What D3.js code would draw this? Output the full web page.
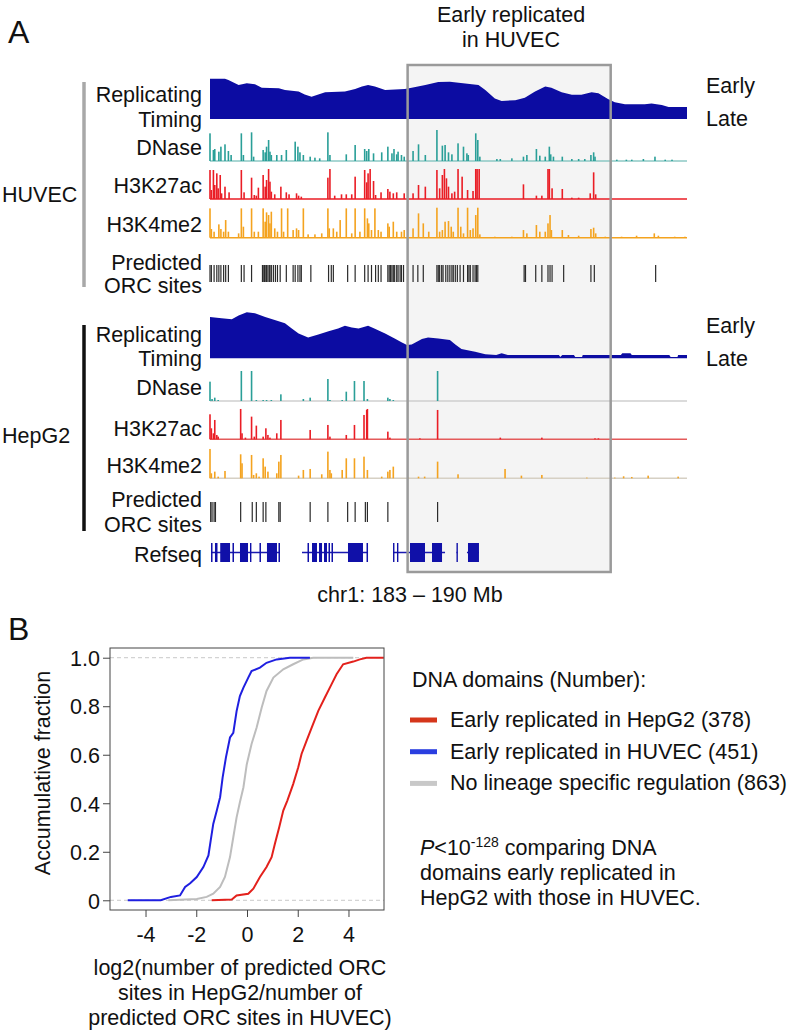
<!DOCTYPE html>
<html>
<head>
<meta charset="utf-8">
<script src="https://cdn.jsdelivr.net/npm/d3@7"></script>
<style>
  body { margin: 0; background: #fff; }
  svg { font-family: "Liberation Sans", Arial, sans-serif; }
</style>
</head>
<body>
<svg id="fig" width="796" height="1033"></svg>
<script>
// ---------- Panel A data (chr1, positions in Mb) ----------
const huvecTiming = [[183.00,0.98],[183.22,0.98],[183.27,0.95],[183.42,0.83],[183.54,0.87],[183.66,0.85],[183.76,0.76],
  [184.01,0.75],[184.10,0.71],[184.30,0.67],[184.39,0.60],[184.49,0.54],[184.59,0.60],[184.69,0.65],[184.98,0.67],
  [185.13,0.73],[185.23,0.79],[185.32,0.83],[185.42,0.79],[185.57,0.71],[185.86,0.73],[185.96,0.76],[186.16,0.83],
  [186.35,0.90],[186.52,0.91],[186.94,0.83],[187.04,0.71],[187.18,0.50],[187.28,0.44],[187.48,0.46],[187.62,0.52],
  [187.77,0.67],[187.92,0.79],[188.01,0.76],[188.16,0.65],[188.31,0.59],[188.45,0.59],[188.60,0.65],[188.70,0.63],
  [188.84,0.49],[188.94,0.41],[189.09,0.36],[189.38,0.36],[189.48,0.38],[189.63,0.34],[189.73,0.29],[190.00,0.29]];

const hepg2Timing = [[183.00,0.90],[183.17,0.87],[183.32,0.85],[183.42,0.93],[183.54,1.00],[183.66,0.98],[183.81,0.90],
  [183.95,0.83],[184.10,0.76],[184.20,0.65],[184.30,0.54],[184.44,0.45],[184.59,0.52],[184.74,0.59],[184.88,0.65],
  [184.98,0.71],[185.08,0.67],[185.18,0.65],[185.32,0.71],[185.42,0.64],[185.57,0.54],[185.71,0.43],[185.81,0.35],
  [185.89,0.29],[185.96,0.30],[186.11,0.42],[186.20,0.45],[186.35,0.43],[186.52,0.40],[186.60,0.30],[186.69,0.20],
  [186.89,0.14],[187.04,0.09],[187.20,0.07],[187.28,0.11],[187.37,0.07],[188.12,0.07],[188.14,0.03],[188.17,0.07],
  [188.34,0.07],[188.36,0.03],[188.46,0.03],[188.47,0.07],[189.03,0.07],[189.05,0.11],[189.17,0.11],[189.19,0.07],
  [189.74,0.07],[189.76,0.03],[189.86,0.03],[189.87,0.07],[190.00,0.07]];

const huvecDnase = [[183.00,83],[183.05,33],[183.07,36],[183.13,28],[183.16,43],[183.22,50],[183.27,30],[183.31,18],
  [183.46,83],[183.49,18],[183.61,86],[183.64,13],[183.78,33],[183.81,26],[183.83,43],[183.86,63],[183.88,28],[183.90,18],
  [183.98,18],[184.05,18],[184.12,33],[184.25,58],[184.29,43],[184.32,26],[184.37,18],[184.47,13],[184.54,10],[184.61,8],
  [184.73,86],[184.76,18],[185.00,20],[185.13,48],[185.27,36],[185.30,30],[185.33,36],[185.40,23],[185.52,26],[185.61,43],
  [185.67,23],[185.70,36],[185.74,20],[185.76,28],[185.81,18],[185.85,13],[185.98,30],[186.06,50],[186.16,18],[186.33,93],
  [186.41,46],[186.45,48],[186.50,26],[186.55,20],[186.64,53],[186.72,43],[186.77,23],[186.79,18],[186.90,83],[186.93,63],
  [186.96,13],[187.21,6],[187.26,6],[187.43,8],[187.60,13],[187.65,18],[187.79,36],[187.84,16],[187.92,13],[187.98,43],
  [188.00,20],[188.04,13],[188.17,13],[188.31,6],[188.41,6],[188.50,6],[188.59,18],[188.63,26],[188.65,13],[188.97,4],
  [189.11,4],[189.19,4],[189.36,6],[189.53,13],[189.68,4],[189.78,4]];

const huvecH3k27ac = [[183.00,87],[183.02,27],[183.05,87],[183.07,42],[183.10,77],[183.12,32],[183.15,72],[183.17,17],
  [183.22,37],[183.28,20],[183.46,87],[183.50,20],[183.61,64],[183.65,12],[183.68,10],[183.71,34],[183.78,72],[183.81,37],
  [183.83,57],[183.86,90],[183.88,52],[183.90,22],[183.95,14],[184.04,37],[184.12,20],[184.16,14],[184.27,17],[184.30,10],
  [184.34,7],[184.73,64],[184.76,90],[184.83,10],[184.93,14],[185.00,14],[185.08,14],[185.13,67],[185.27,87],[185.30,50],
  [185.32,77],[185.35,90],[185.40,54],[185.43,12],[185.51,20],[185.61,30],[185.64,22],[185.69,17],[185.74,20],[185.85,17],
  [185.98,17],[186.06,42],[186.16,37],[186.33,87],[186.37,32],[186.41,72],[186.44,90],[186.47,62],[186.50,37],[186.55,17],
  [186.59,22],[186.64,90],[186.70,67],[186.78,27],[186.86,24],[186.90,90],[186.92,90],[186.95,90],[187.60,44],[187.79,10],
  [187.87,10],[187.96,90],[187.98,90],[188.02,32],[188.17,30],[188.31,4],[188.41,4],[188.58,17],[188.63,80],[188.66,14]];

const huvecH3k4me2 = [[183.00,88],[183.02,26],[183.06,18],[183.13,40],[183.16,26],[183.20,18],[183.23,53],[183.27,18],
  [183.42,13],[183.46,88],[183.49,33],[183.61,88],[183.65,18],[183.71,18],[183.78,88],[183.81,48],[183.83,76],[183.86,68],
  [183.88,43],[183.90,78],[183.95,28],[183.99,18],[184.05,88],[184.08,18],[184.14,88],[184.22,23],[184.27,28],[184.30,23],
  [184.37,88],[184.44,10],[184.54,10],[184.64,13],[184.73,88],[184.75,28],[184.81,28],[184.86,18],[184.91,53],[185.00,88],
  [185.08,13],[185.13,88],[185.20,18],[185.27,88],[185.31,58],[185.33,43],[185.37,23],[185.42,88],[185.47,23],[185.51,18],
  [185.61,43],[185.63,33],[185.69,48],[185.74,18],[185.81,18],[185.85,23],[185.98,28],[186.06,73],[186.13,43],[186.21,18],
  [186.33,90],[186.37,18],[186.41,23],[186.45,48],[186.50,50],[186.54,33],[186.57,18],[186.64,90],[186.68,33],[186.72,13],
  [186.78,90],[186.82,23],[186.86,28],[186.90,68],[186.93,90],[186.96,10],[187.18,3],[187.43,3],[187.60,23],[187.65,13],
  [187.79,38],[187.84,18],[187.92,18],[187.96,43],[187.99,68],[188.01,23],[188.17,23],[188.26,8],[188.41,6],[188.59,26],
  [188.63,30],[188.66,13],[188.80,3],[189.04,3],[189.26,6],[189.52,13],[189.58,6],[189.82,3],[189.97,3]];

const huvecOrc = [183.00,183.02,183.06,183.10,183.13,183.16,183.20,183.23,183.27,183.46,183.50,183.61,183.77,183.78,
  183.80,183.82,183.83,183.85,183.87,183.88,183.90,183.93,183.96,183.99,184.03,184.12,184.22,184.25,184.29,184.32,184.34,
  184.48,184.74,184.78,184.81,185.02,185.13,185.27,185.32,185.37,185.43,185.47,185.51,185.61,185.63,185.65,185.67,185.69,
  185.71,185.74,185.76,185.79,185.81,185.84,185.98,186.05,186.13,186.33,186.35,186.37,186.40,186.42,186.46,186.49,186.52,
  186.55,186.57,186.60,186.63,186.67,186.72,186.78,186.80,186.82,186.86,186.89,186.91,186.93,187.61,187.63,187.78,187.87,
  187.96,187.99,188.02,188.19,188.59,188.64,189.54];

const hepg2Dnase = [[183.00,58],[183.03,6],[183.07,10],[183.12,3],[183.46,90],[183.61,90],[183.68,3],[183.78,3],[183.83,3],
  [183.90,3],[184.04,20],[184.37,6],[184.47,10],[184.73,66],[184.76,3],[184.94,3],[185.00,28],[185.12,60],[185.26,60],
  [185.31,6],[185.61,10],[185.64,6],[185.69,3],[186.34,90]];

const hepg2H3k27ac = [[183.00,75],[183.02,33],[183.05,18],[183.07,58],[183.10,13],[183.12,8],[183.45,91],[183.47,18],
  [183.52,5],[183.61,68],[183.65,8],[183.68,41],[183.78,8],[183.82,33],[183.85,13],[183.88,5],[183.98,18],[184.04,58],
  [184.47,28],[184.73,43],[184.76,8],[185.00,13],[185.12,43],[185.26,73],[185.30,88],[185.31,91],[185.61,23],[185.64,5],
  [186.08,3],[186.34,88],[187.26,5],[187.87,5],[188.65,3],[188.70,3]];

const hepg2H3k4me2 = [[183.00,88],[183.02,15],[183.07,20],[183.12,5],[183.22,22],[183.45,72],[183.47,45],[183.61,70],
  [183.64,10],[183.68,15],[183.72,5],[183.78,60],[183.81,35],[183.85,20],[183.98,15],[184.01,50],[184.04,70],[184.30,8],
  [184.37,25],[184.47,28],[184.64,12],[184.73,80],[184.76,25],[184.78,15],[184.94,25],[185.00,60],[185.12,60],[185.26,65],
  [185.31,25],[185.52,5],[185.61,20],[185.64,25],[185.69,35],[185.91,2],[186.06,5],[186.15,5],[186.34,50],[186.64,12],
  [187.33,28],[187.57,8],[187.87,10],[188.53,2],[188.94,2],[189.07,6],[189.19,4],[189.43,8],[189.87,5]];

const hepg2Orc = [183.01,183.03,183.06,183.08,183.45,183.62,183.68,183.78,183.82,184.01,184.03,184.47,184.73,185.02,
  185.13,185.28,185.31,185.61,186.34];

const refseqGenes = [
  { start: 183.015, end: 184.027, exons: [[183.015,183.037],[183.073,183.110],[183.150,183.294],[183.330,183.352],
      [183.440,183.558],[183.587,183.600],[183.726,183.748],[183.836,183.983],[184.005,184.027]] },
  { start: 184.350, end: 185.319, exons: [[184.431,184.453],[184.497,184.570],[184.600,184.644],[184.673,184.717],
      [184.739,184.761],[184.783,184.805],[185.025,185.245],[185.297,185.319]] },
  { start: 185.686, end: 186.449, exons: [[185.686,185.700],[185.744,185.759],[185.935,186.155],[186.258,186.405]] },
  { start: 186.617, end: 186.632, exons: [[186.617,186.632]] },
  { start: 186.771, end: 186.947, exons: [[186.786,186.947]] }
];

const earlyRegion = [185.90, 188.88];

// ---------- Panel B data (cumulative distributions) ----------
const cdfHepg2 = [[-1.39,0],[-0.60,0.003],[-0.41,0.02],[0.05,0.027],[0.25,0.048],[0.51,0.096],[0.77,0.137],[0.97,0.178],
  [1.10,0.233],[1.27,0.301],[1.43,0.37],[1.59,0.411],[1.82,0.479],[2.02,0.548],[2.15,0.603],[2.35,0.658],[2.55,0.712],
  [2.81,0.781],[3.07,0.836],[3.33,0.89],[3.53,0.932],[3.79,0.973],[4.19,0.984],[4.45,0.993],[4.71,1],[5.39,1]];
const cdfHuvec = [[-4.7,0],[-3.4,0],[-3.0,0.014],[-2.64,0.02],[-2.44,0.055],[-2.24,0.07],[-1.98,0.096],[-1.72,0.137],
  [-1.52,0.185],[-1.43,0.247],[-1.33,0.315],[-1.19,0.37],[-1.06,0.425],[-0.96,0.507],[-0.83,0.589],[-0.67,0.671],
  [-0.54,0.69],[-0.41,0.78],[-0.28,0.842],[-0.14,0.877],[0.05,0.918],[0.18,0.945],[0.51,0.959],[0.77,0.979],[1.17,0.993],
  [1.69,1],[2.48,1]];
const cdfNone = [[-3.1,0],[-1.98,0.005],[-1.59,0.014],[-1.33,0.027],[-1.06,0.055],[-0.87,0.096],[-0.67,0.178],[-0.54,0.26],
  [-0.41,0.342],[-0.28,0.404],[-0.14,0.466],[-0.01,0.56],[0.18,0.644],[0.38,0.712],[0.58,0.795],[0.77,0.863],[1.04,0.918],
  [1.43,0.952],[1.82,0.973],[2.22,0.993],[2.61,1],[4.19,1]];

const xTicks = [-4, -2, 0, 2, 4];
const yTicks = [0, 0.2, 0.4, 0.6, 0.8, 1.0];
const legendLabels = ["Early replicated in HepG2 (378)", "Early replicated in HUVEC (451)", "No lineage specific regulation (863)"];

// ---------- drawing ----------
const svg = d3.select("#fig");
const FS = 21.5;
const blue = "#0c0ca2", teal = "#2a9f98", red = "#ea1d25", orange = "#f4a31f";

const x = d3.scaleLinear().domain([183, 190]).range([210, 687]);

// highlighted region box (fill behind tracks)
svg.append("rect")
  .attr("x", x(earlyRegion[0])).attr("y", 65)
  .attr("width", x(earlyRegion[1]) - x(earlyRegion[0])).attr("height", 507)
  .attr("fill", "#f4f4f4");

// replication timing areas
function timing(data, base, top) {
  const y = d3.scaleLinear().domain([0, 1]).range([base, top]);
  const area = d3.area().x(d => x(d[0])).y0(base).y1(d => y(d[1]));
  svg.append("path").datum(data).attr("d", area).attr("fill", blue);
}
timing(huvecTiming, 119, 78);
timing(hepg2Timing, 358.3, 312.3);

// signal tracks
function peaks(data, base, color, baseColor) {
  const y = d3.scaleLinear().domain([0, 90]).range([base, base - 30]);
  svg.append("line").attr("x1", x(183)).attr("x2", x(190)).attr("y1", base).attr("y2", base)
    .attr("stroke", baseColor).attr("stroke-width", 1.5);
  svg.append("g").selectAll("rect").data(data).enter().append("rect")
    .attr("x", d => x(d[0]) - 0.8).attr("width", 1.6)
    .attr("y", d => y(d[1])).attr("height", d => base - y(d[1]))
    .attr("fill", color);
}
peaks(huvecDnase, 161, teal, "#8cc9c5");
peaks(huvecH3k27ac, 199, red, red);
peaks(huvecH3k4me2, 237.7, orange, orange);
peaks(hepg2Dnase, 401, teal, "#cfcfcf");
peaks(hepg2H3k27ac, 439.3, red, "#e45a5a");
peaks(hepg2H3k4me2, 478.3, orange, "#d6d0c4");

// predicted ORC sites
function orc(data, y1, y2) {
  svg.append("g").selectAll("line").data(data).enter().append("line")
    .attr("x1", d => x(d)).attr("x2", d => x(d)).attr("y1", y1).attr("y2", y2)
    .attr("stroke", "#2b2b2b").attr("stroke-width", 1.2);
}
orc(huvecOrc, 265, 282);
orc(hepg2Orc, 502, 522);

// refseq genes
const gy = 552.5;
const gene = svg.append("g").selectAll("g").data(refseqGenes).enter().append("g");
gene.append("line").attr("x1", d => x(d.start)).attr("x2", d => x(d.end)).attr("y1", gy).attr("y2", gy)
  .attr("stroke", "#1a1ab0").attr("stroke-width", 1.5);
gene.selectAll("rect").data(d => d.exons).enter().append("rect")
  .attr("x", d => x(d[0])).attr("width", d => Math.max(1.4, x(d[1]) - x(d[0])))
  .attr("y", gy - 9.5).attr("height", 19).attr("fill", "#1010a8");

// box outline on top
svg.append("rect")
  .attr("x", x(earlyRegion[0])).attr("y", 65)
  .attr("width", x(earlyRegion[1]) - x(earlyRegion[0])).attr("height", 507)
  .attr("fill", "none").attr("stroke", "#9a9a9a").attr("stroke-width", 2.5);

// cell-line brackets
svg.append("line").attr("x1", 84).attr("x2", 84).attr("y1", 82).attr("y2", 287).attr("stroke", "#a8a8a8").attr("stroke-width", 3.5);
svg.append("line").attr("x1", 84).attr("x2", 84).attr("y1", 325).attr("y2", 531).attr("stroke", "#111").attr("stroke-width", 3.5);

// text helpers
function txt(s, tx, ty, anchor, size) {
  return svg.append("text").attr("x", tx).attr("y", ty).attr("text-anchor", anchor || "start")
    .attr("font-size", size || FS).attr("fill", "#111").text(s);
}

txt("A", 8, 43, "start", 32);
txt("Early replicated", 511, 21.7, "middle");
txt("in HUVEC", 511, 46.7, "middle");

const trackLabels = [
  ["Replicating", 101.7], ["Timing", 126.7], ["DNase", 155], ["H3K27ac", 193.3], ["H3K4me2", 231.7],
  ["Predicted", 270], ["ORC sites", 293.3],
  ["Replicating", 341.7], ["Timing", 366], ["DNase", 395], ["H3K27ac", 435.7], ["H3K4me2", 473.3],
  ["Predicted", 507.3], ["ORC sites", 531.7], ["Refseq", 561.7]
];
trackLabels.forEach(d => txt(d[0], 202, d[1], "end"));
txt("HUVEC", 2, 201.7);
txt("HepG2", 2, 443.3);
txt("Early", 706, 93.3); txt("Late", 706, 126);
txt("Early", 706, 332.7); txt("Late", 706, 366);
txt("chr1: 183 \u2013 190 Mb", 410, 602, "middle");

// ---------- Panel B ----------
txt("B", 8, 640, "start", 32);

const bx = d3.scaleLinear().domain([-5.4, 5.4]).range([110, 384]);
const by = d3.scaleLinear().domain([-0.04, 1.04]).range([910, 648]);

[0, 1].forEach(v => {
  svg.append("line").attr("x1", 110).attr("x2", 384).attr("y1", by(v)).attr("y2", by(v))
    .attr("stroke", "#c8c8c8").attr("stroke-width", 1).attr("stroke-dasharray", "4,3");
});

const line = d3.line().x(d => bx(d[0])).y(d => by(d[1]));
[[cdfNone, "#bdbdbd"], [cdfHuvec, "#1f1fe0"], [cdfHepg2, "#e3211c"]].forEach(c => {
  svg.append("path").datum(c[0]).attr("d", line).attr("fill", "none")
    .attr("stroke", c[1]).attr("stroke-width", 2);
});

svg.append("rect").attr("x", 110).attr("y", 648).attr("width", 274).attr("height", 262)
  .attr("fill", "none").attr("stroke", "#444").attr("stroke-width", 1);

const xAxis = svg.append("g").attr("transform", "translate(0,910)")
  .call(d3.axisBottom(bx).tickValues(xTicks).tickSize(7).tickPadding(10).tickFormat(d => String(d)));
const yAxis = svg.append("g").attr("transform", "translate(110,0)")
  .call(d3.axisLeft(by).tickValues(yTicks).tickSize(7).tickPadding(3).tickFormat(d => d === 0 ? "0" : d3.format(".1f")(d)));
[xAxis, yAxis].forEach(a => {
  a.select(".domain").remove();
  a.selectAll("line").attr("stroke", "#444");
  a.selectAll("text").attr("font-size", FS).attr("fill", "#111").attr("font-family", "Liberation Sans, Arial, sans-serif");
});
yAxis.selectAll("text").attr("dy", "0.36em");

svg.append("text").attr("transform", "translate(50,773) rotate(-90)").attr("text-anchor", "middle")
  .attr("font-size", FS).attr("fill", "#111").text("Accumulative fraction");

["log2(number of predicted ORC", "sites in HepG2/number of", "predicted ORC sites in HUVEC)"]
  .forEach((s, i) => txt(s, 240, 975 + i * 25, "middle"));

// legend
txt("DNA domains (Number):", 412, 687);
const legendColors = ["#d5361b", "#2a3ee0", "#c8c8c8"];
legendLabels.forEach((s, i) => {
  const ly = 720 + i * 31.7;
  svg.append("line").attr("x1", 410).attr("x2", 437).attr("y1", ly).attr("y2", ly)
    .attr("stroke", legendColors[i]).attr("stroke-width", 5);
  txt(s, 450, ly + 7);
});

const p = txt("", 420, 855);
p.append("tspan").attr("font-style", "italic").text("P");
p.append("tspan").text("<10");
p.append("tspan").attr("font-size", 14).attr("dy", -8).text("-128");
p.append("tspan").attr("dy", 8).text(" comparing DNA");
txt("domains early replicated in", 420, 880);
txt("HepG2 with those in HUVEC.", 420, 905);
</script>
</body>
</html>
